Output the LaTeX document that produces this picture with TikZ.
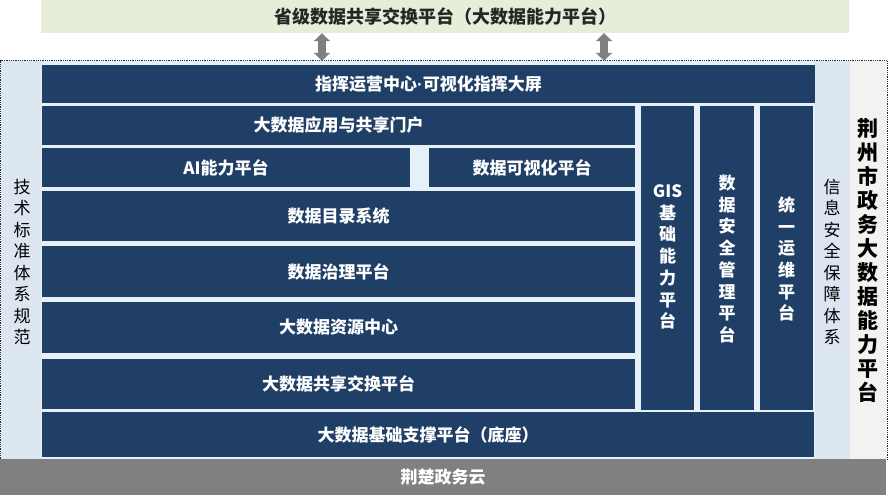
\documentclass[tikz,border=0pt]{standalone}
\usepackage{fontspec}
\usetikzlibrary{arrows.meta}
\newfontfamily\cjk{Noto Sans CJK SC}
\newfontfamily\latn{Liberation Sans}
\definecolor{navy}{HTML}{1F3F66}
\definecolor{panelblue}{HTML}{DCE6F1}
\definecolor{gapblue}{HTML}{E6F0F8}
\definecolor{stripgray}{HTML}{F2F2F2}
\definecolor{topgreen}{HTML}{E6EED9}
\definecolor{cloudgray}{HTML}{808080}
\definecolor{arrowgray}{HTML}{7F7F7F}
\definecolor{darktext}{HTML}{262626}
\begin{document}
\begin{tikzpicture}[x=1pt,y=-1pt,
  blk/.style={fill=navy,draw=none,inner sep=0pt,text=white,align=center,
    font=\cjk\bfseries\fontsize{17}{21.7}\selectfont},
  panel/.style={draw=none,inner sep=0pt,align=center},
  side/.style={text=black,font=\cjk\fontsize{17}{21.5}\selectfont},
  dblarrow/.style={draw=arrowgray,line width=8pt,
    {Triangle[width=16pt,length=8pt]}-{Triangle[width=16pt,length=8pt]}}]
\useasboundingbox (0,0) rectangle (893,500);
\fill[white] (0,0) rectangle (893,500);
% frame background
\node[panel,fill=gapblue,minimum width=886pt,minimum height=398pt] (frame) at (444,260) {};
\node[panel,fill=panelblue,minimum width=40pt,minimum height=398pt] (lpanel) at (21,260) {};
\node[panel,fill=panelblue,minimum width=35pt,minimum height=398pt] (rpanel) at (832.5,260) {};
\node[panel,fill=stripgray,minimum width=37pt,minimum height=398pt] (rstrip) at (868.5,260) {};
\draw[densely dotted,line width=0.8pt,draw=darktext] (frame.south west) rectangle (frame.north east);
% top bar
\node[panel,fill=topgreen,minimum width=808pt,minimum height=33pt,text=darktext,
  font=\cjk\bfseries\fontsize{18}{20}\selectfont] (top) at (445,16.5) {省级数据共享交换平台（大数据能力平台）};
% bottom cloud
\node[panel,fill=cloudgray,minimum width=886pt,minimum height=36pt,text=white,
  font=\cjk\bfseries\fontsize{17}{20}\selectfont] (cloud) at (443,477) {荆楚政务云};
% side labels
\node[panel,side] (lstd) at (22,262) {技\\术\\标\\准\\体\\系\\规\\范};
\node[panel,side] (rsec) at (832,262) {信\\息\\安\\全\\保\\障\\体\\系};
\node[panel,text=black,font=\cjk\bfseries\fontsize{21}{24}\selectfont] (title) at (868,261) {荆\\州\\市\\政\\务\\大\\数\\据\\能\\力\\平\\台};
% blocks
\node[blk,minimum width=773pt,minimum height=38pt] (r1) at (428.5,84) {指挥运营中心{\latn\bfseries ·}可视化指挥大屏};
\node[blk,minimum width=593pt,minimum height=39pt] (r2) at (338.5,125.5) {大数据应用与共享门户};
\node[blk,minimum width=368pt,minimum height=39pt] (ai) at (226,167.5) {AI能力平台};
\node[blk,minimum width=206pt,minimum height=39pt] (vis) at (532,167.5) {数据可视化平台};
\node[blk,minimum width=593pt,minimum height=50pt] (dir) at (338.5,216) {数据目录系统};
\node[blk,minimum width=593pt,minimum height=51pt] (gov) at (338.5,271.5) {数据治理平台};
\node[blk,minimum width=593pt,minimum height=51pt] (res) at (338.5,327.5) {大数据资源中心};
\node[blk,minimum width=593pt,minimum height=50pt] (exch) at (338.5,384) {大数据共享交换平台};
\node[blk,minimum width=772pt,minimum height=45pt] (base) at (428,434.5) {大数据基础支撑平台（底座）};
\node[blk,minimum width=53pt,minimum height=304pt] (gis) at (667.5,258) {};
\node[blk] (gist) at (667.5,257) {GIS\\基\\础\\能\\力\\平\\台};
\node[blk,minimum width=54pt,minimum height=304pt] (sec) at (727,258) {};
\node[blk] (sect) at (727,259) {数\\据\\安\\全\\管\\理\\平\\台};
\node[blk,minimum width=53pt,minimum height=304pt] (ops) at (786.5,258) {};
\node[blk] (opst) at (786.5,259) {统\\一\\运\\维\\平\\台};
% arrows
\coordinate (ax1) at (322,0);
\coordinate (ax2) at (604,0);
\draw[dblarrow] (ax1 |- top.south) -- (ax1 |- frame.north);
\draw[dblarrow] (ax2 |- top.south) -- (ax2 |- frame.north);
\end{tikzpicture}
\end{document}
